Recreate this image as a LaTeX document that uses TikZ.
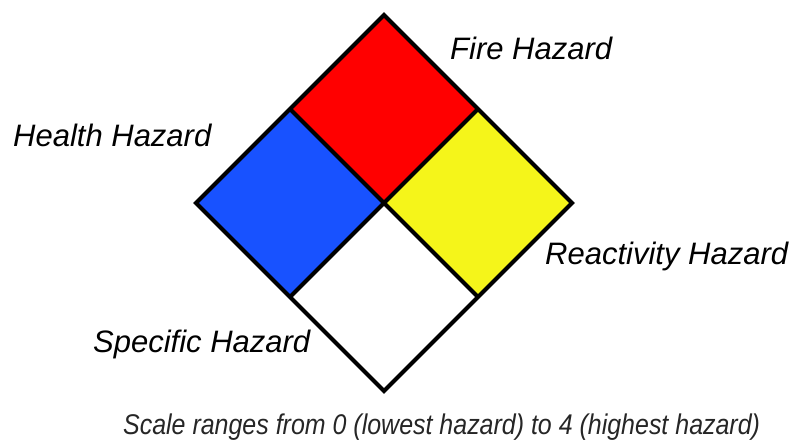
\documentclass[tikz,border=0pt]{standalone}
\usepackage{xcolor}
\usepackage{fontspec}
\setmainfont{Liberation Sans}
\usepackage{tikz}
\usetikzlibrary{positioning}
\definecolor{merah}{RGB}{255,0,0}
\definecolor{biru}{RGB}{24,82,255}
\definecolor{kuning}{RGB}{245,245,26}
\tikzset{
  petak/.style={draw=black, line width=4pt, line join=miter},
  tulisan/.style={font=\fontsize{31}{36}\selectfont\itshape, anchor=base west, inner sep=0pt},
  catatan/.style={font=\fontsize{28.5}{32}\selectfont\itshape, anchor=base west,
    inner sep=0pt, text=black!85, xscale=0.876}
}

\begin{document}
\begin{tikzpicture}[x=1pt, y=-1pt]
  \useasboundingbox (0,0) rectangle (790,443);
  % titik-titik belah ketupat
  \coordinate (atas) at (384,15);
  \coordinate (kiri) at (196,203);
  \coordinate (kanan) at (572,203);
  \coordinate (bawah) at (384,391);
  \coordinate (tengah) at (384,203);
  \coordinate (kiriatas) at (290,109);
  \coordinate (kananatas) at (478,109);
  \coordinate (kiribawah) at (290,297);
  \coordinate (kananbawah) at (478,297);
  % empat petak
  \fill[merah] (atas) -- (kananatas) -- (tengah) -- (kiriatas) -- cycle;
  \fill[biru] (kiriatas) -- (tengah) -- (kiribawah) -- (kiri) -- cycle;
  \fill[kuning] (kananatas) -- (kanan) -- (kananbawah) -- (tengah) -- cycle;
  \fill[white] (tengah) -- (kananbawah) -- (bawah) -- (kiribawah) -- cycle;
  \draw[petak] (atas) -- (kanan) -- (bawah) -- (kiri) -- cycle;
  \draw[petak] (kiriatas) -- (kananbawah);
  \draw[petak] (kananatas) -- (kiribawah);
  % keterangan
  \node[tulisan] (api) at (450,60) {Fire Hazard};
  \node[tulisan] (kesehatan) at (13,147) {Health Hazard};
  \node[tulisan] (reaktif) at (545,265) {Reactivity Hazard};
  \node[tulisan] (khusus) at (93,353) {Specific Hazard};
  \node[catatan] (skala) at (123,435) {Scale ranges from 0 (lowest hazard) to 4 (highest hazard)};
\end{tikzpicture}
\end{document}
